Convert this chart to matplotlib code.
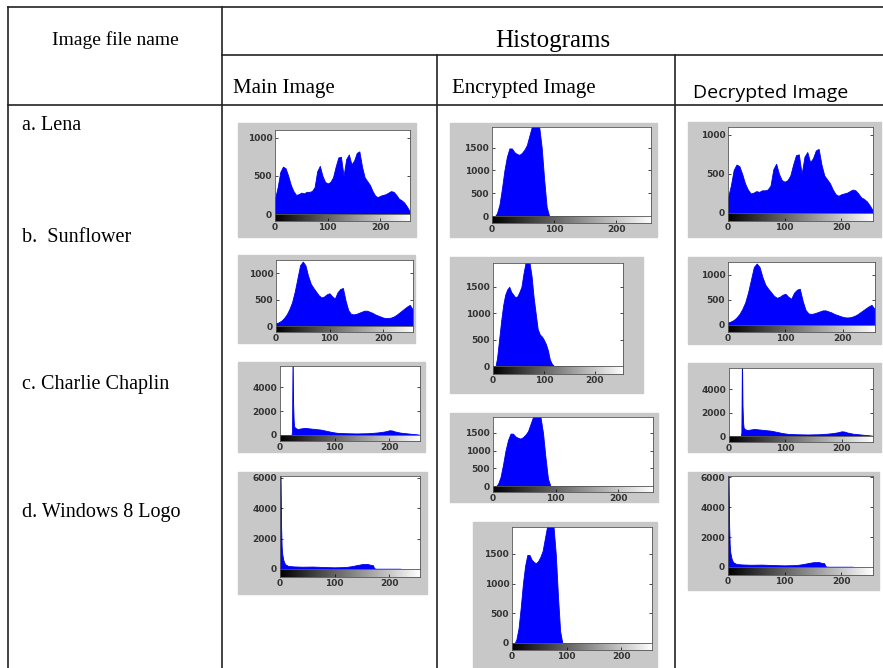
import matplotlib.pyplot as plt
import numpy as np
from matplotlib.patches import Rectangle
from matplotlib.lines import Line2D

# ---------- data ----------
row_names = ["a. Lena", "b.  Sunflower", "c. Charlie Chaplin", "d. Windows 8 Logo"]
col_names = ["Main Image", "Encrypted Image", "Decrypted Image"]

lena_lv = list(range(0, 256, 5))
lena_ct = [200, 350, 550, 620, 600, 500, 380, 300, 250, 260, 280, 270, 290, 290, 300, 350,
           560, 630, 500, 420, 400, 420, 480, 620, 740, 750, 500, 720, 780, 650, 700, 800,
           820, 620, 480, 430, 380, 300, 240, 220, 240, 250, 260, 280, 300, 290, 250, 200,
           180, 150, 100, 40]

sun_lv = list(range(0, 256, 5))
sun_ct = [50, 70, 100, 150, 220, 320, 450, 650, 900, 1150, 1220, 1150, 950, 800, 720, 650,
          580, 540, 560, 600, 620, 560, 520, 640, 700, 720, 480, 300, 230, 220, 230, 250,
          270, 290, 290, 270, 250, 220, 200, 180, 160, 150, 150, 160, 180, 210, 250, 290,
          330, 370, 400, 320]

chap_lv = [0, 21, 22, 23, 24, 25, 26, 28, 32, 38, 45, 55, 65, 75, 85, 95, 105, 120, 140,
           160, 175, 185, 195, 200, 205, 210, 220, 230, 240, 250, 255]
chap_ct = [0, 0, 300, 7000, 2600, 1200, 700, 600, 500, 550, 600, 550, 500, 450, 350, 250,
           180, 150, 130, 150, 200, 250, 330, 400, 380, 300, 200, 150, 100, 60, 20]

win_lv = [0, 1, 2, 3, 4, 6, 8, 10, 15, 25, 40, 60, 80, 100, 120, 130, 140, 150, 160, 165,
          170, 172, 175, 200, 220, 222, 256]
win_ct = [6100, 6100, 2800, 1500, 1000, 600, 400, 300, 200, 170, 150, 160, 130, 110, 130,
          180, 250, 320, 330, 280, 250, 60, 20, 20, 20, 0, 0]

enc_lv = [0, 5, 8, 12, 16, 20, 24, 28, 32, 36, 40, 44, 48, 52, 56, 60, 64, 68, 72, 76, 80,
          84, 88, 92, 256]
enc_ct = [0, 0, 60, 250, 600, 1000, 1300, 1480, 1480, 1400, 1360, 1340, 1380, 1450, 1550,
          1750, 1950, 2000, 1980, 1950, 1500, 800, 200, 0, 0]

encsun_lv = [0, 5, 8, 12, 16, 20, 24, 28, 32, 36, 40, 44, 48, 52, 56, 60, 64, 68, 72, 76,
             80, 84, 88, 92, 96, 100, 104, 108, 112, 116, 120, 256]
encsun_ct = [0, 0, 150, 500, 850, 1150, 1350, 1450, 1500, 1400, 1350, 1300, 1320, 1400, 1500,
             1750, 1950, 1950, 1950, 1700, 1300, 1000, 700, 600, 560, 500, 420, 300, 120, 40,
             0, 0]

W, H = 883, 668
fig = plt.figure(figsize=(W / 100, H / 100), dpi=100)
fig.patch.set_facecolor("white")
SERIF = ["Liberation Serif", "DejaVu Serif"]


def fx(x):
    return x / W


def fy(y):
    return 1 - y / H


def hline(y, x0, x1):
    fig.add_artist(Line2D([fx(x0), fx(x1)], [fy(y), fy(y)], color="#222222", lw=1.2))


def vline(x, y0, y1):
    fig.add_artist(Line2D([fx(x), fx(x)], [fy(y0), fy(y1)], color="#222222", lw=1.2))


# ---------- table grid ----------
hline(7, 8, 883)
hline(55, 222, 883)
hline(105, 8, 883)
vline(8, 7, 668)
vline(222, 7, 668)
vline(437, 55, 668)
vline(675, 55, 668)

fig.text(fx(115), fy(40), "Image file name", family=SERIF, fontsize=14,
         ha="center", va="center")
fig.text(fx(553), fy(41), "Histograms", family=SERIF, fontsize=18,
         ha="center", va="center")
fig.text(fx(233), fy(88), col_names[0], family=SERIF, fontsize=15, ha="left", va="center")
fig.text(fx(452), fy(88), col_names[1], family=SERIF, fontsize=15, ha="left", va="center")
fig.text(fx(693), fy(93), col_names[2], family=["Open Sans", "DejaVu Sans"], fontsize=14,
         ha="left", va="center")
for name, y in zip(row_names, [126, 237, 384, 513]):
    fig.text(fx(22), fy(y), name, family=SERIF, fontsize=14.5, ha="left", va="center")

grad = np.linspace(0, 1, 256).reshape(1, -1)


def panel(gray, box, lv, ct, ymax, yticks):
    gx0, gy0, gx1, gy1 = gray
    fig.patches.append(Rectangle((fx(gx0), fy(gy1)), (gx1 - gx0) / W, (gy1 - gy0) / H,
                                 transform=fig.transFigure, color="#c8c8c8", zorder=-1))
    left, top, right, zero, sbot = box
    ax = fig.add_axes([fx(left), fy(zero), (right - left) / W, (zero - top) / H])
    ax.fill_between(lv, ct, color="#0000ff", lw=0.6, edgecolor="#0000ee")
    ax.set_xlim(0, 256)
    ax.set_ylim(0, ymax)
    ax.set_xticks([])
    ax.set_yticks(yticks)
    ax.tick_params(axis="y", direction="in", length=2, right=True, labelsize=6.5,
                   labelcolor="#333333", pad=2, width=0.5)
    for lab in ax.get_yticklabels():
        lab.set_fontweight("bold")
    for s in ax.spines.values():
        s.set_color("#555555")
        s.set_linewidth(0.6)

    sax = fig.add_axes([fx(left), fy(sbot), (right - left) / W, (sbot - zero) / H])
    sax.imshow(grad, aspect="auto", cmap="gray", extent=[0, 256, 0, 1])
    sax.set_xlim(0, 256)
    sax.set_yticks([])
    sax.set_xticks([0, 100, 200])
    sax.tick_params(axis="x", direction="in", length=2, labelsize=6.5,
                    labelcolor="#333333", pad=1.5, width=0.5)
    for lab in sax.get_xticklabels():
        lab.set_fontweight("bold")
    for s in sax.spines.values():
        s.set_color("#555555")
        s.set_linewidth(0.6)


t_lo = [0, 500, 1000]
t_enc = [0, 500, 1000, 1500]
t_chap = [0, 2000, 4000]
t_win = [0, 2000, 4000, 6000]

# main image column
panel((238, 123, 416, 237), (275, 130, 410, 214, 221), lena_lv, lena_ct, 1100, t_lo)
panel((238, 255, 415, 343), (276, 260, 413, 326, 332), sun_lv, sun_ct, 1250, t_lo)
panel((238, 362, 425, 452), (280, 366, 420, 435, 441), chap_lv, chap_ct, 5800, t_chap)
panel((238, 472, 427, 594), (280, 476, 420, 569, 577), win_lv, win_ct, 6100, t_win)

# encrypted image column
panel((450, 123, 657, 237), (492, 127, 651, 216, 223), enc_lv, enc_ct, 1950, t_enc)
panel((450, 257, 643, 393), (493, 263, 623, 366, 374), encsun_lv, encsun_ct, 1950, t_enc)
panel((450, 413, 658, 502), (493, 417, 653, 486, 492), enc_lv, enc_ct, 1950, t_enc)
panel((473, 522, 657, 668), (512, 527, 652, 643, 650), enc_lv, enc_ct, 1950, t_enc)

# decrypted image column
panel((688, 122, 881, 237), (728, 127, 873, 213, 221), lena_lv, lena_ct, 1100, t_lo)
panel((688, 257, 881, 344), (728, 262, 875, 325, 332), sun_lv, sun_ct, 1250, t_lo)
panel((688, 363, 881, 452), (729, 368, 873, 436, 442), chap_lv, chap_ct, 5800, t_chap)
panel((688, 472, 879, 590), (728, 476, 873, 567, 575), win_lv, win_ct, 6100, t_win)

fig.savefig("out.png", dpi=100)
